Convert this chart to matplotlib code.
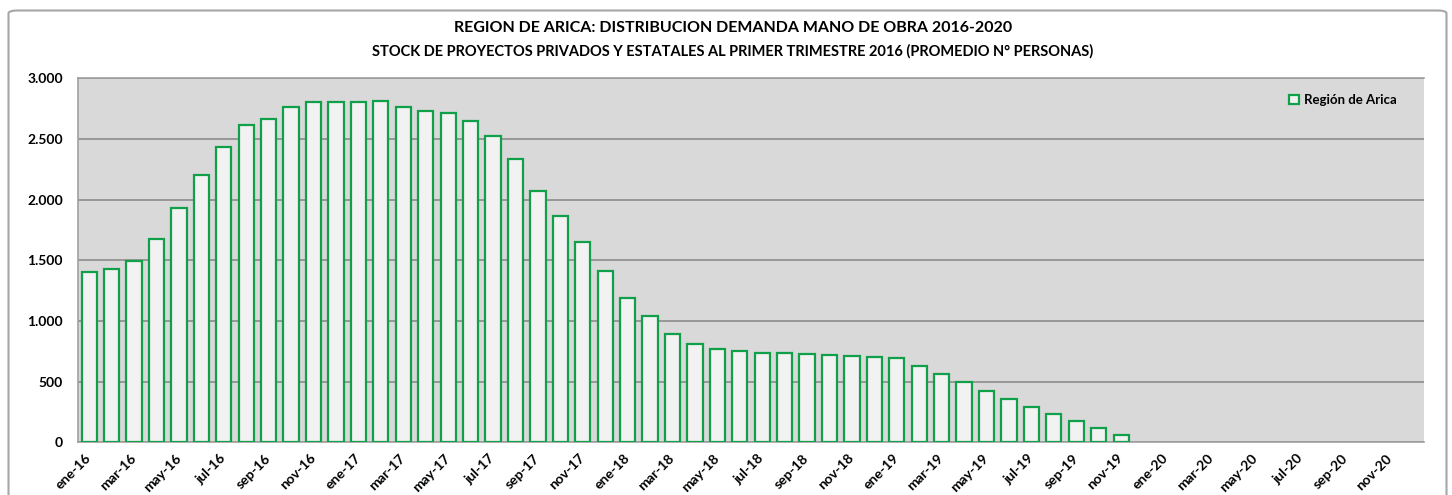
import numpy as np
import matplotlib.pyplot as plt
from matplotlib.patches import Patch, FancyBboxPatch
from matplotlib.ticker import FuncFormatter

# monthly labels ene-16 ... dic-20
meses = ['ene', 'feb', 'mar', 'abr', 'may', 'jun', 'jul', 'ago', 'sep', 'oct', 'nov', 'dic']
anios = ['16', '17', '18', '19', '20']
categorias = [m + '-' + a for a in anios for m in meses]

# average number of workers per month (Región de Arica)
demanda = [1401, 1431, 1497, 1673, 1934, 2203, 2434, 2618, 2662, 2763,
           2807, 2807, 2802, 2816, 2763, 2733, 2714, 2645, 2527, 2337,
           2074, 1868, 1651, 1409, 1187, 1041, 893, 810, 766, 752,
           736, 736, 728, 719, 709, 703, 692, 626, 560, 494,
           420, 354, 294, 236, 178, 118, 60,
           0, 0, 0, 0, 0, 0, 0, 0, 0, 0, 0, 0, 0]

titulo1 = 'REGION DE ARICA: DISTRIBUCION DEMANDA MANO DE OBRA 2016-2020'
titulo2 = 'STOCK DE PROYECTOS PRIVADOS Y ESTATALES AL PRIMER TRIMESTRE 2016 (PROMEDIO N° PERSONAS)'
serie = 'Región de Arica'

verde = '#11A04A'
W, H = 1452, 495

plt.rcParams['font.family'] = ['Lato', 'DejaVu Sans']
plt.rcParams['font.weight'] = 'bold'

fig = plt.figure(figsize=(W / 100, H / 100), dpi=100)
fig.patch.set_facecolor('white')

# outer chart frame (bottom runs off the image)
marco = FancyBboxPatch((8.5 / W, -0.05), (1446.5 - 8.5) / W, 1.05 - 10.5 / H,
                       boxstyle='round,pad=0,rounding_size=0.006',
                       transform=fig.transFigure, facecolor='none',
                       edgecolor='#A6A6A6', linewidth=1.5, clip_on=False)
fig.patches.append(marco)

ax = fig.add_axes([78 / W, (H - 442.3) / H, (1424 - 78) / W, (442.3 - 78.3) / H])
ax.set_facecolor('#D9D9D9')

x = np.arange(len(categorias))
bordes = [verde if v > 0 else 'none' for v in demanda]
ax.bar(x, demanda, width=0.68, color='#F2F2F2', edgecolor=bordes, linewidth=1.6, zorder=3)

ax.set_xlim(-0.5, len(categorias) - 0.5)
ax.set_ylim(0, 3000)
ax.set_yticks(np.arange(0, 3001, 500))
ax.yaxis.set_major_formatter(FuncFormatter(lambda v, p: f'{int(v):,}'.replace(',', '.')))
ax.grid(axis='y', color='#868686', linewidth=1.1, zorder=1)
ax.tick_params(axis='y', length=0, pad=11, labelsize=10)

ax.set_xticks(x[::2])
ax.set_xticklabels(categorias[::2], rotation=45, ha='right', va='center',
                   rotation_mode='anchor', fontsize=10)
ax.tick_params(axis='x', length=0, pad=10)

for lado in ['top', 'left', 'bottom']:
    ax.spines[lado].set_color('#A0A0A0')
    ax.spines[lado].set_linewidth(1.2)
ax.spines['right'].set_visible(False)

ax.legend(handles=[Patch(facecolor='#F2F2F2', edgecolor=verde, linewidth=1.6, label=serie)],
          loc='center left', bbox_to_anchor=(0.891, 0.94), frameon=False,
          handlelength=0.75, handleheight=0.75, handletextpad=0.35,
          prop={'weight': 'bold', 'size': 9.5})

fig.text(733 / W, 1 - 28 / H, titulo1, ha='center', va='center', fontsize=11.5, fontweight='bold')
fig.text(733 / W, 1 - 51 / H, titulo2, ha='center', va='center', fontsize=10.5, fontweight='bold')

fig.savefig('out.png', dpi=100)
